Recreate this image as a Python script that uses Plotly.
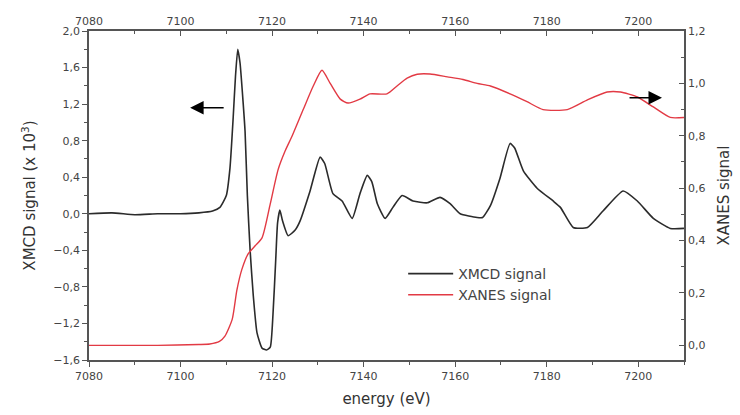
import plotly.graph_objects as go

# ---- data ----
xmcd_energy = [7080, 7085, 7090, 7095, 7100, 7104, 7107, 7108.6, 7110.0, 7110.8, 7111.5, 7112.0,
               7112.5, 7113.0, 7113.7, 7114.1, 7114.6, 7115.2, 7115.9, 7116.7, 7117.8, 7118.8,
               7119.6, 7120.2, 7120.8, 7121.2, 7121.7, 7122.3, 7123.5, 7125.0, 7126.1, 7128.3,
               7130.5, 7131.5, 7133.3, 7135.3, 7137.5, 7139.2, 7140.8, 7141.8, 7143.0, 7144.7,
               7146.4, 7148.4, 7150.8, 7153.9, 7156.7, 7158.9, 7161.1, 7164.8, 7166.0, 7167.7,
               7169.8, 7172.0, 7173.0, 7174.9, 7177.9, 7181.4, 7183.0, 7185.8, 7188.9, 7192.3,
               7196.7, 7199.8, 7203.3, 7207.0, 7210]
xmcd_signal = [0.0, 0.01, -0.01, 0.0, 0.0, 0.01, 0.03, 0.07, 0.2, 0.5, 1.05, 1.5,
               1.80, 1.65, 1.2, 0.9, 0.2, -0.4, -0.9, -1.3, -1.47, -1.49,
               -1.46, -1.1, -0.5, -0.1, 0.04, -0.08, -0.24, -0.18, -0.08, 0.25,
               0.62, 0.55, 0.22, 0.14, -0.05, 0.22, 0.42, 0.35, 0.11, -0.05,
               0.07, 0.20, 0.14, 0.12, 0.18, 0.11, 0.0, -0.04, -0.04, 0.09,
               0.39, 0.77, 0.72, 0.47, 0.28, 0.14, 0.07, -0.15, -0.15, 0.03,
               0.25, 0.14, -0.05, -0.16, -0.16]

xanes_energy = [7080, 7095, 7104, 7106.4, 7108.5, 7109.7, 7111.3, 7112.3, 7113.4, 7114.8,
                7116.3, 7117.8, 7119.6, 7121.3, 7122.8, 7124.4, 7126.8, 7129.0, 7130.9, 7132.7,
                7134.9, 7136.6, 7139.2, 7141.4, 7145.1, 7147.3, 7149.5, 7151.7, 7154.5, 7158.3,
                7161.7, 7164.8, 7167.7, 7172.0, 7175.7, 7179.2, 7184.5, 7188.9, 7193.2, 7196.1,
                7199.8, 7203.3, 7207.0, 7210]
xanes_signal = [0.0, 0.0, 0.003, 0.005, 0.015, 0.035, 0.10, 0.21, 0.29, 0.35,
                0.38, 0.41, 0.54, 0.67, 0.74, 0.80, 0.90, 0.99, 1.05, 1.00,
                0.94, 0.925, 0.94, 0.96, 0.96, 0.99, 1.02, 1.035, 1.036, 1.025,
                1.015, 1.0, 0.99, 0.96, 0.93, 0.90, 0.90, 0.937, 0.967, 0.967,
                0.948, 0.91, 0.87, 0.87]

energy_ticks = [7080, 7100, 7120, 7140, 7160, 7180, 7200]

FONT = "DejaVu Sans"
AXC = "#555555"
TXT = "#444444"

fig = go.Figure()
fig.add_trace(go.Scatter(x=xmcd_energy, y=xmcd_signal, name="XMCD signal", mode="lines",
                         line=dict(color="#2b2b2b", width=1.6, shape="spline", smoothing=0.5),
                         xaxis="x", yaxis="y"))
fig.add_trace(go.Scatter(x=xanes_energy, y=xanes_signal, name="XANES signal", mode="lines",
                         line=dict(color="#e23a44", width=1.4, shape="spline", smoothing=0.6),
                         xaxis="x", yaxis="y2"))
# helper trace so the top energy axis is drawn
fig.add_trace(go.Scatter(x=[energy_ticks[0], energy_ticks[-1]], y=[0, 0], mode="markers",
                         marker=dict(opacity=0), showlegend=False, hoverinfo="skip",
                         xaxis="x2", yaxis="y"))

axis_common = dict(showgrid=False, zeroline=False, showline=True, linecolor=AXC, linewidth=1.5,
                   tickcolor=AXC, tickwidth=1.2, automargin=False,
                   tickfont=dict(family=FONT, size=11, color=TXT))

fig.update_layout(
    width=740, height=415,
    margin=dict(l=89, r=56, t=31, b=55),
    paper_bgcolor="white", plot_bgcolor="white",
    separators=", ",
    font=dict(family=FONT, color=TXT),
    xaxis=dict(range=[7080, 7210], tickvals=energy_ticks, ticks="outside", ticklen=5,
               minor=dict(dtick=10, tick0=7080, ticks="outside", ticklen=3, tickcolor=AXC),
               title=dict(text="energy (eV)", font=dict(family=FONT, size=15, color="#333"), standoff=12),
               **axis_common),
    xaxis2=dict(range=[7080, 7210], overlaying="x", side="top", tickvals=energy_ticks,
                ticks="inside", ticklen=5,
                minor=dict(dtick=10, tick0=7080, ticks="inside", ticklen=3, tickcolor=AXC),
                **axis_common),
    yaxis=dict(range=[-1.6, 2.0], tick0=-1.6, dtick=0.4, tickformat=".1f", ticks="outside", ticklen=5,
               minor=dict(dtick=0.2, tick0=-1.6, ticks="outside", ticklen=3, tickcolor=AXC),
               title=dict(text="XMCD signal (x 10<sup>3</sup>)", font=dict(family=FONT, size=15, color="#333"),
                          standoff=14),
               **axis_common),
    yaxis2=dict(range=[-0.056, 1.2], tick0=0, dtick=0.2, tickformat=".1f", overlaying="y", side="right",
                ticks="inside", ticklen=5,
                minor=dict(dtick=0.1, tick0=0, ticks="inside", ticklen=3, tickcolor=AXC),
                title=dict(text="XANES signal", font=dict(family=FONT, size=15, color="#333"), standoff=14),
                **axis_common),
    legend=dict(x=0.528, y=0.31, xanchor="left", yanchor="top", bgcolor="rgba(0,0,0,0)",
                font=dict(family=FONT, size=14, color="#444"), tracegroupgap=0, itemwidth=45),
    showlegend=True,
)

fig.add_annotation(x=7102.1, y=1.16, xref="x", yref="y", ax=35, ay=0, text="", showarrow=True,
                   arrowhead=2, arrowsize=1.8, arrowwidth=1.5, arrowcolor="black")
fig.add_annotation(x=7205.2, y=1.27, xref="x", yref="y", ax=-34, ay=0, text="", showarrow=True,
                   arrowhead=2, arrowsize=1.8, arrowwidth=1.5, arrowcolor="black")

fig.write_html("out.html")
